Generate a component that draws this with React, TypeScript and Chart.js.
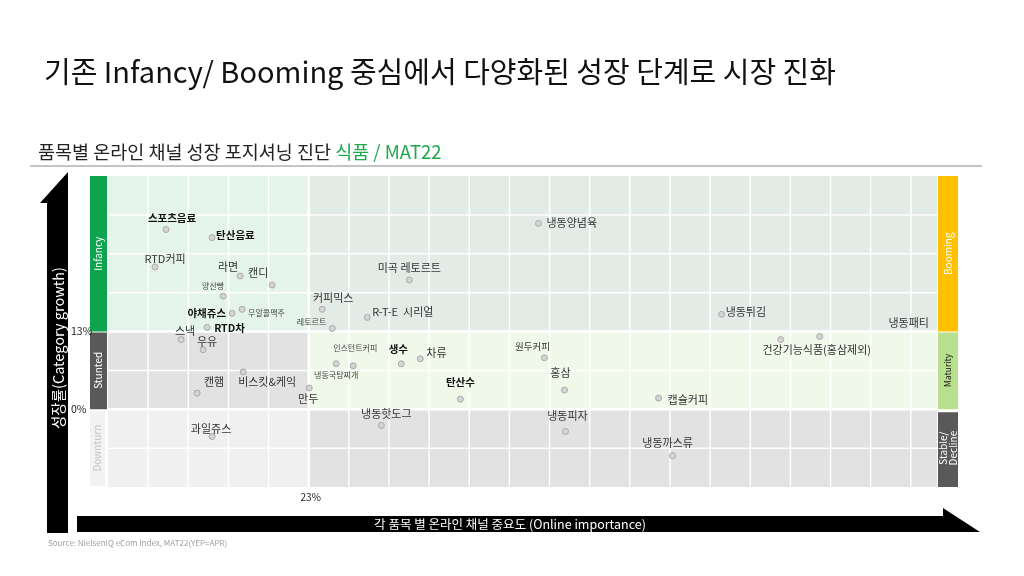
import React, { useEffect, useRef } from "react";
import { Chart, registerables } from "chart.js";

Chart.register(...registerables);

// ---------- DATA ----------
const categories = [
  "스포츠음료", "탄산음료", "RTD커피", "라면", "캔디", "양산빵", "야채쥬스", "무알콜맥주",
  "커피믹스", "레토르트", "스낵", "RTD차", "우유", "캔햄", "비스킷&케익", "만두", "과일쥬스",
  "냉동양념육", "미곡 레토르트", "R-T-E  시리얼", "냉동국탕찌개", "인스턴트커피", "생수", "차류",
  "탄산수", "원두커피", "홍삼", "냉동핫도그", "냉동피자", "냉동튀김", "건강기능식품(홍삼제외)",
  "냉동패티", "캡슐커피", "냉동까스류",
];
// Online importance (%)
const onlineImportance = [
  6.65, 11.93, 5.39, 15.14, 18.81, 13.19, 14.22, 15.37,
  24.55, 25.7, 8.37, 11.36, 10.9, 10.21, 15.49, 23.06, 11.93,
  49.33, 34.53, 29.71, 26.15, 28.1, 33.61, 35.79,
  40.38, 50.01, 52.31, 31.32, 52.42, 70.32, 77.09,
  81.56, 63.09, 64.7,
];
// Category growth (%)
const categoryGrowth = [
  30.05, 28.7, 23.8, 22.29, 20.77, 18.91, 16.04, 16.71,
  16.71, 13.51, 11.65, 13.68, 9.96, 2.7, 6.25, 3.55, -4.56,
  31.06, 21.61, 15.36, 7.6, 7.26, 7.6, 8.44,
  1.69, 8.61, 3.21, -2.7, -3.71, 15.87, 11.65,
  12.16, 1.86, -7.77,
];
const xThreshold = 23; // %
const yThresholdHigh = 13; // %
const yThresholdLow = 0; // %
const xTickLabels = ["23%"];
const yTickLabels = ["13%", "0%"];
const leftStages = ["Infancy", "Stunted", "Downturn"];
const rightStages = ["Booming", "Maturity", "Stable/\nDecline"];

// ---------- LAYOUT (label placement / style) ----------
// [dx, dy, align, kind] kind: n = normal, b = bold, s = small
const labelLayout: [number, number, CanvasTextAlign, string][] = [
  [6, -12, "center", "b"], [4, -3, "left", "b"], [10, -8, "center", "n"], [-12, -9, "center", "n"],
  [-14, -12, "center", "n"], [-10, -10, "center", "s"], [-6, 0, "right", "b"], [6, 4, "left", "s"],
  [11, -11, "center", "n"], [-6, -6, "right", "s"], [4, -9, "center", "n"], [7, 1, "left", "b"],
  [4, -8, "center", "n"], [17, -11, "center", "n"], [24, 10, "center", "n"], [-1, 11, "center", "n"],
  [-1, -8, "center", "n"],
  [8, -1, "left", "n"], [0, -12, "center", "n"], [5, -6, "left", "n"], [0, 11, "center", "s"],
  [2, -18, "center", "s"], [-3, -15, "center", "b"], [6, -6, "left", "n"],
  [0, -17, "center", "b"], [-12, -11, "center", "s2"], [-4, -17, "center", "n"], [5, -12, "center", "n"],
  [2, -16, "center", "n"], [4, -3, "left", "n"], [36, 10, "center", "n"],
  [89, -14, "center", "n"], [9, 2, "left", "n"], [-5, -13, "center", "n"],
];

const FONT = '"Noto Sans CJK KR", "Noto Sans", sans-serif';

function rotText(ctx: CanvasRenderingContext2D, text: string, cx: number, cy: number, font: string, color: string) {
  ctx.save();
  ctx.translate(cx, cy);
  ctx.rotate(-Math.PI / 2);
  ctx.font = font;
  ctx.fillStyle = color;
  ctx.textAlign = "center";
  ctx.textBaseline = "middle";
  const lines = text.split("\n");
  const lh = 10;
  lines.forEach((l, i) => ctx.fillText(l, 0, (i - (lines.length - 1) / 2) * lh));
  ctx.restore();
}

const decorPlugin = {
  id: "decor",
  beforeDraw(chart: any) {
    const { ctx, chartArea: a, scales } = chart;
    const xs = scales.x, ys = scales.y;
    const xT = xs.getPixelForValue(xThreshold);
    const yH = ys.getPixelForValue(yThresholdHigh);
    const yL = ys.getPixelForValue(yThresholdLow);
    ctx.save();
    ctx.fillStyle = "#ffffff";
    ctx.fillRect(0, 0, chart.width, chart.height);

    // Titles
    ctx.fillStyle = "#111";
    ctx.textBaseline = "alphabetic";
    ctx.textAlign = "left";
    ctx.font = `29px ${FONT}`;
    ctx.fillText("기존 Infancy/ Booming 중심에서 다양화된 성장 단계로 시장 진화", 44, 83);
    ctx.font = `18.5px ${FONT}`;
    const sub1 = "품목별 온라인 채널 성장 포지셔닝 진단 ";
    ctx.fillStyle = "#222";
    ctx.fillText(sub1, 38, 159);
    const w1 = ctx.measureText(sub1).width;
    ctx.fillStyle = "#1fa84c";
    ctx.fillText("식품 / MAT22", 38 + w1, 159);
    ctx.fillStyle = "#8a8a8a";
    ctx.fillRect(30, 165.5, 952, 1);

    // Quadrant backgrounds
    const quads: [number, number, number, number, string][] = [
      [a.left, a.top, xT, yH, "#e5f4ea"],
      [xT, a.top, a.right, yH, "#e3ebe6"],
      [a.left, yH, xT, yL, "#e2e2e2"],
      [xT, yH, a.right, yL, "#f0f8e9"],
      [a.left, yL, xT, a.bottom, "#f0f0f0"],
      [xT, yL, a.right, a.bottom, "#e2e2e2"],
    ];
    quads.forEach(([x1, y1, x2, y2, c]) => {
      ctx.fillStyle = c;
      ctx.fillRect(x1, y1, x2 - x1, y2 - y1);
    });
    // grid lines
    ctx.strokeStyle = "rgba(255,255,255,0.95)";
    ctx.lineWidth = 1.5;
    xs.ticks.forEach((t: any) => {
      const px = xs.getPixelForValue(t.value);
      if (px > a.left + 1 && px < a.right - 1) {
        ctx.beginPath();
        ctx.moveTo(px, a.top);
        ctx.lineTo(px, a.bottom);
        ctx.stroke();
      }
    });
    ys.ticks.forEach((t: any) => {
      const py = ys.getPixelForValue(t.value);
      if (py > a.top + 1 && py < a.bottom - 1) {
        ctx.beginPath();
        ctx.moveTo(a.left, py);
        ctx.lineTo(a.right, py);
        ctx.stroke();
      }
    });
    ctx.lineWidth = 2.5;
    ctx.strokeStyle = "#ffffff";
    [yH, yL].forEach((py) => {
      ctx.beginPath();
      ctx.moveTo(a.left, py);
      ctx.lineTo(a.right, py);
      ctx.stroke();
    });
    ctx.beginPath();
    ctx.moveTo(xT, a.top);
    ctx.lineTo(xT, a.bottom);
    ctx.stroke();

    // Left stage bars
    ctx.fillStyle = "#0ea34e";
    ctx.fillRect(90, a.top, 17, yH - a.top);
    ctx.fillStyle = "#595959";
    ctx.fillRect(90, yH + 1, 17, yL - yH - 1);
    ctx.fillStyle = "#f2f2f2";
    ctx.fillRect(90, yL + 2, 15, a.bottom - yL - 3);
    rotText(ctx, leftStages[0], 98.5, (a.top + yH) / 2, `10px ${FONT}`, "#ffffff");
    rotText(ctx, leftStages[1], 98.5, (yH + yL) / 2, `10px ${FONT}`, "#ffffff");
    rotText(ctx, leftStages[2], 97.5, (yL + a.bottom) / 2, `10px ${FONT}`, "#c4c4c4");

    // Right stage bars
    ctx.fillStyle = "#ffc000";
    ctx.fillRect(938, a.top, 20, yH - a.top);
    ctx.fillStyle = "#b9e08f";
    ctx.fillRect(938, yH + 1, 20, yL - yH - 1);
    ctx.fillStyle = "#595959";
    ctx.fillRect(938, yL + 3, 20, a.bottom - yL - 3);
    rotText(ctx, rightStages[0], 948, (a.top + yH) / 2, `10px ${FONT}`, "#ffffff");
    rotText(ctx, rightStages[1], 948, (yH + yL) / 2, `8.5px ${FONT}`, "#111111");
    rotText(ctx, rightStages[2], 948, (yL + a.bottom) / 2, `10px ${FONT}`, "#ffffff");

    // Arrows
    ctx.fillStyle = "#000";
    ctx.beginPath();
    ctx.moveTo(68, 172);
    ctx.lineTo(68, 533);
    ctx.lineTo(47, 533);
    ctx.lineTo(47, 203);
    ctx.lineTo(40, 203);
    ctx.closePath();
    ctx.fill();
    ctx.beginPath();
    ctx.moveTo(77, 516);
    ctx.lineTo(943, 516);
    ctx.lineTo(943, 508);
    ctx.lineTo(980, 532);
    ctx.lineTo(77, 532);
    ctx.closePath();
    ctx.fill();
    rotText(ctx, "성장률(Category growth)", 58, 348, `14.5px ${FONT}`, "#ffffff");
    ctx.font = `12.5px ${FONT}`;
    ctx.fillStyle = "#fff";
    ctx.textAlign = "center";
    ctx.textBaseline = "middle";
    ctx.fillText("각 품목 별 온라인 채널 중요도 (Online importance)", 510, 524);

    // Tick labels
    ctx.fillStyle = "#222";
    ctx.font = `10.5px ${FONT}`;
    ctx.textAlign = "left";
    ctx.fillText(yTickLabels[0], 71, yH);
    ctx.fillText(yTickLabels[1], 71, yL);
    ctx.textAlign = "center";
    ctx.font = `10px ${FONT}`;
    ctx.fillText(xTickLabels[0], xT + 2, 497);

    // Source
    ctx.textAlign = "left";
    ctx.fillStyle = "#a0a0a0";
    ctx.font = `8px ${FONT}`;
    ctx.fillText("Source: NielsenIQ eCom Index, MAT22(YEP=APR)", 48, 543);
    ctx.restore();
  },
  afterDatasetsDraw(chart: any) {
    const { ctx } = chart;
    const meta = chart.getDatasetMeta(0);
    ctx.save();
    ctx.textBaseline = "middle";
    meta.data.forEach((pt: any, i: number) => {
      const [dx, dy, align, kind] = labelLayout[i];
      let font = `11px ${FONT}`;
      let color = "#333";
      if (kind === "b") { font = `bold 10.5px ${FONT}`; color = "#111"; }
      if (kind === "s") { font = `8px ${FONT}`; color = "#444"; }
      if (kind === "s2") { font = `9.5px ${FONT}`; color = "#333"; }
      ctx.font = font;
      ctx.fillStyle = color;
      ctx.textAlign = align;
      ctx.fillText(categories[i], pt.x + dx, pt.y + dy);
    });
    ctx.restore();
  },
};

export default function App() {
  const ref = useRef<HTMLCanvasElement | null>(null);
  useEffect(() => {
    if (!ref.current) return;
    const chart = new Chart(ref.current, {
      type: "scatter",
      data: {
        datasets: [
          {
            data: onlineImportance.map((x, i) => ({ x, y: categoryGrowth[i] })),
            backgroundColor: "#d4d4d4",
            borderColor: "#ababab",
            borderWidth: 1,
            pointRadius: 3,
          },
        ],
      },
      options: {
        responsive: false,
        animation: false,
        devicePixelRatio: 1,
        layout: { padding: { left: 108, right: 87, top: 176, bottom: 89 } },
        plugins: { legend: { display: false }, tooltip: { enabled: false } },
        scales: {
          x: { type: "linear", display: false, min: 0, max: 95, ticks: { stepSize: 4.6 } },
          y: { type: "linear", display: false, min: -13, max: 39, ticks: { stepSize: 6.5 } },
        },
      },
      plugins: [decorPlugin],
    });
    return () => chart.destroy();
  }, []);
  return (
    <div style={{ position: "fixed", left: 0, top: 0, width: 1024, height: 576, background: "#fff" }}>
      <canvas ref={ref} width={1024} height={576} style={{ width: 1024, height: 576, display: "block" }} />
    </div>
  );
}
